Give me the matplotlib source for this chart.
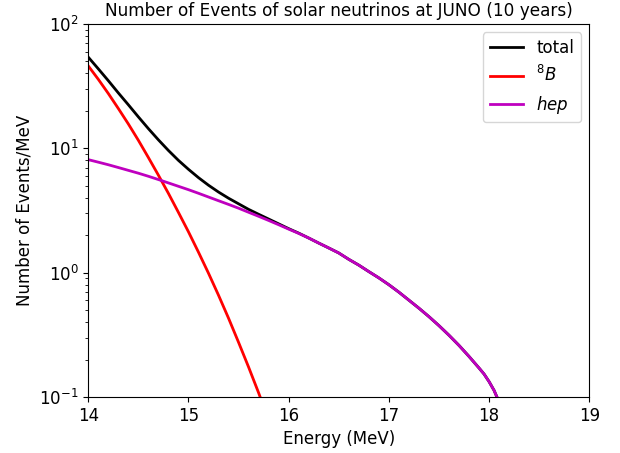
import numpy as np
import matplotlib
matplotlib.use("Agg")
import matplotlib.pyplot as plt

# Energy grid (MeV)
energy = [14.0, 14.1, 14.2, 14.3, 14.4, 14.5, 14.6, 14.7, 14.8, 14.9,
          15.0, 15.1, 15.2, 15.3, 15.4, 15.5, 15.6, 15.7, 15.8, 15.9,
          16.0, 16.1, 16.2, 16.3, 16.4, 16.5, 16.6, 16.7, 16.8, 16.9,
          17.0, 17.1, 17.2, 17.3, 17.4, 17.5, 17.6, 17.7, 17.8, 17.9,
          17.95, 18.0, 18.05, 18.1, 18.15, 18.2]

# hep events / MeV
hep = [8.11, 7.74, 7.38, 7.01, 6.65, 6.31, 5.96, 5.61, 5.27, 4.95,
       4.65, 4.35, 4.06, 3.79, 3.54, 3.30, 3.06, 2.84, 2.63, 2.43,
       2.24, 2.07, 1.90, 1.73, 1.58, 1.44, 1.28, 1.15, 1.02, 0.908,
       0.800, 0.697, 0.601, 0.518, 0.443, 0.375, 0.314, 0.260, 0.212, 0.171,
       0.153, 0.133, 0.113, 0.0912, 0.072, 0.056]

# 8B events / MeV
energy_b8 = [14.0, 14.1, 14.2, 14.3, 14.4, 14.5, 14.6, 14.7, 14.8, 14.9,
             15.0, 15.1, 15.2, 15.3, 15.4, 15.5, 15.6, 15.7, 15.8, 15.9, 16.0]
b8 = [46.0, 35.9, 27.6, 20.9, 15.7, 11.6, 8.43, 6.08, 4.34, 3.05,
      2.13, 1.46, 0.989, 0.658, 0.430, 0.275, 0.174, 0.108, 0.0656, 0.0398, 0.0240]

# total events / MeV
total = [54.1, 43.6, 35.0, 27.9, 22.4, 17.9, 14.4, 11.7, 9.61, 8.00,
         6.78, 5.81, 5.05, 4.45, 3.97, 3.58, 3.23, 2.95, 2.70, 2.47,
         2.26, 2.08, 1.90, 1.73, 1.58, 1.44, 1.28, 1.15, 1.02, 0.908,
         0.800, 0.697, 0.601, 0.518, 0.443, 0.375, 0.314, 0.260, 0.212, 0.171,
         0.153, 0.133, 0.113, 0.0912, 0.072, 0.056]

fig = plt.figure(figsize=(6.2, 4.53), dpi=100)
ax = fig.add_axes([0.1424, 0.1236, 0.808, 0.8234])

ax.plot(energy, total, color='k', lw=2, label='total')
ax.plot(energy_b8, b8, color='r', lw=2, label=r'$^8B$')
ax.plot(energy, hep, color='m', lw=2, label=r'$hep$')

ax.set_yscale('log')
ax.set_xlim(14, 19)
ax.set_ylim(0.1, 100)
ax.tick_params(labelsize=12)
ax.set_xlabel('Energy (MeV)', fontsize=12)
ax.set_ylabel('Number of Events/MeV', fontsize=12)
ax.set_title('Number of Events of solar neutrinos at JUNO (10 years)', fontsize=12.2)
ax.legend(loc='upper right', fontsize=12)

fig.savefig('out.png', dpi=100)
